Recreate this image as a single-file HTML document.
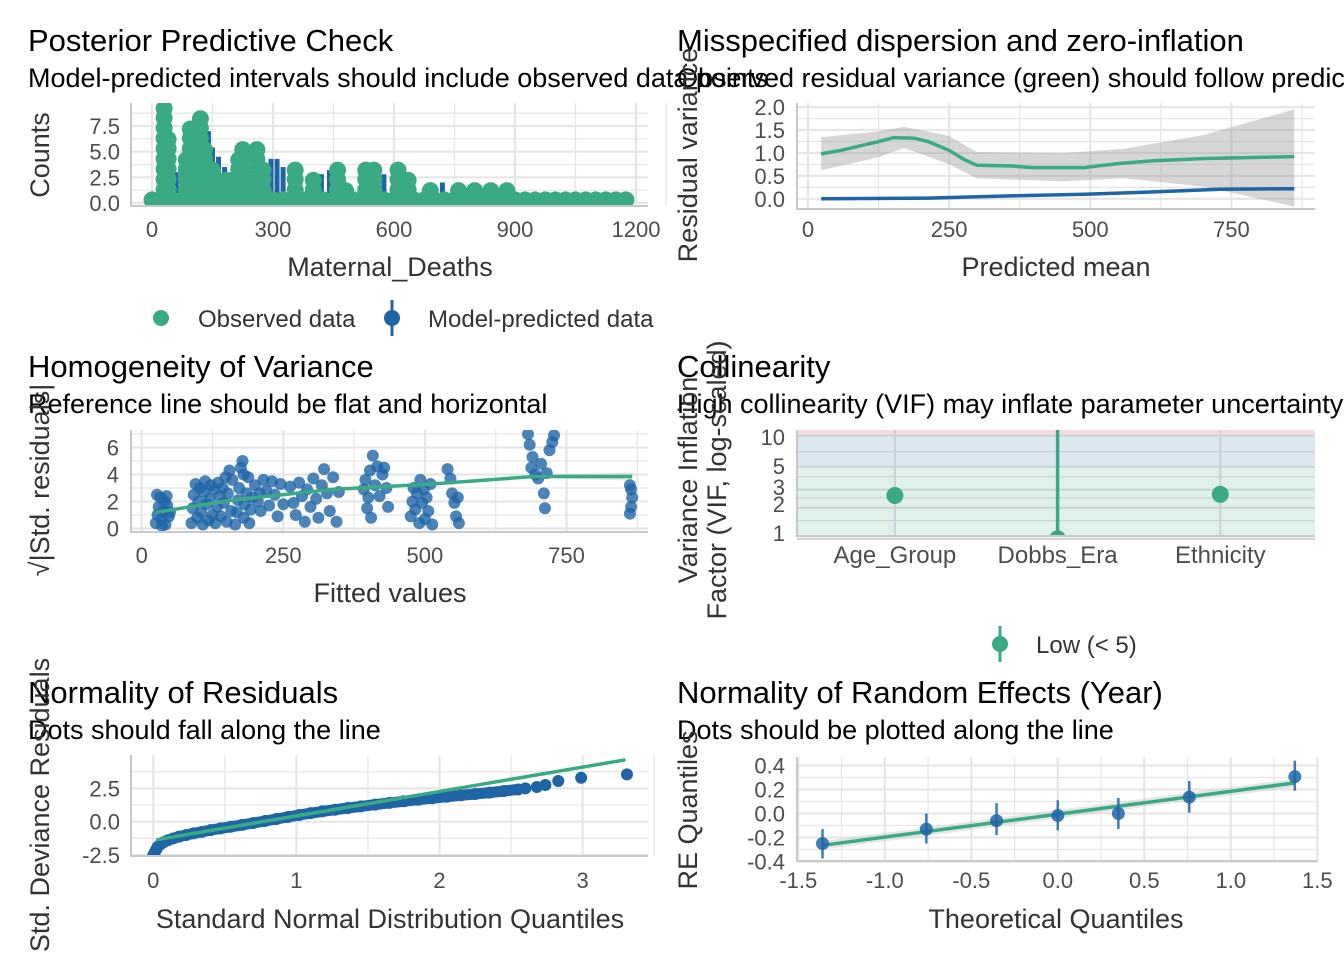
<!DOCTYPE html>
<html><head><meta charset="utf-8"><style>
html,body{margin:0;padding:0;background:#fff;}
svg{display:block;font-family:"Liberation Sans",Arial,sans-serif;}
</style></head><body>
<svg id="c" width="1344" height="960" viewBox="0 0 1344 960" xmlns="http://www.w3.org/2000/svg">
<g fill="#000">
<text x="28" y="51" font-size="31">Posterior Predictive Check</text>
<text x="28" y="87" font-size="27">Model-predicted intervals should include observed data points</text>
<text x="677" y="51" font-size="31">Misspecified dispersion and zero-inflation</text>
<text x="677" y="87" font-size="27">Observed residual variance (green) should follow predicted residual variance (blue)</text>
<text x="28" y="377" font-size="31">Homogeneity of Variance</text>
<text x="28" y="413" font-size="27">Reference line should be flat and horizontal</text>
<text x="677" y="377" font-size="31">Collinearity</text>
<text x="677" y="413" font-size="27">High collinearity (VIF) may inflate parameter uncertainty</text>
<text x="28" y="703" font-size="31">Normality of Residuals</text>
<text x="28" y="739" font-size="27">Dots should fall along the line</text>
<text x="677" y="703" font-size="31">Normality of Random Effects (Year)</text>
<text x="677" y="739" font-size="27">Dots should be plotted along the line</text>
</g>
<g fill="#333" font-size="27" text-anchor="middle">
<text x="390" y="276">Maternal_Deaths</text>
<text x="1056" y="276">Predicted mean</text>
<text x="390" y="602">Fitted values</text>
<text x="390" y="928">Standard Normal Distribution Quantiles</text>
<text x="1056" y="928">Theoretical Quantiles</text>
<text transform="translate(49,155) rotate(-90)">Counts</text>
<text transform="translate(697,155) rotate(-90)">Residual variance</text>
<text transform="translate(49,480) rotate(-90)">√|Std. residuals|</text>
<text transform="translate(697,480) rotate(-90)">Variance Inflation</text>
<text transform="translate(726,480) rotate(-90)">Factor (VIF, log-scaled)</text>
<text transform="translate(49,805) rotate(-90)">Std. Deviance Residuals</text>
<text transform="translate(697,810) rotate(-90)">RE Quantiles</text>
</g>
<g font-size="24" fill="#333">
<circle cx="161" cy="318" r="8" fill="#3aaa85"/>
<text x="198" y="327">Observed data</text>
<line x1="392" y1="300" x2="392" y2="336" stroke="#1f65a6" stroke-width="3"/>
<circle cx="392" cy="318" r="8" fill="#1f65a6"/>
<text x="428" y="327">Model-predicted data</text>
</g>
<g font-size="24" fill="#333">
<line x1="1000" y1="626" x2="1000" y2="662" stroke="#3aaa85" stroke-width="3"/>
<circle cx="1000" cy="644" r="8" fill="#3aaa85"/>
<text x="1036" y="653">Low (&lt; 5)</text>
</g>
</svg>
<script>
// ===== Data: Posterior Predictive Check =====
const obsX = [30,40,85,95,110,120,130,150,185,215,225,260,275,355,400,460,480,530,550,610,635,690,760,800,840,880];
const obsN = [9,6,4,7,6,8,5,3,2,4,5,5,3,3,2,3,1,3,3,3,2,1,1,1,1,1];
const baseX = [0,25,50,75,100,125,150,175,200,225,250,275,300,325,350,375,400,425,450,475,500,525,550,575,600,625,650,675,700,725,750,775,800,825,850,875,900,925,950,975,1000,1025,1050,1075,1100,1125,1150,1175];
const predX = [20,28,35,45,60,75,100,115,140,150,165,180,200,240,295,310,325,400,420,440,575,720,900,950,1000,1050,1100];
const predHi = [3,8,8.3,5,3,4,6,8,7,5.4,4.5,3.5,3,2.5,4.3,4.3,3.5,2.3,2.8,3.2,2.8,2,1,1,1,1,0.8];
const ppcXTicks = [0,300,600,900,1200];
const ppcYTicks = [0,2.5,5,7.5];
const ppcYLabels = ["0.0","2.5","5.0","7.5"];
// ===== Data: dispersion =====
const dispX = [23.4,60,90.7,124.5,152,188.8,213.4,250,274.7,299,360.5,397,489,550.6,612,704,861.5];
const dispObs = [0.98,1.06,1.15,1.245,1.335,1.32,1.245,1.055,0.87,0.73,0.715,0.68,0.68,0.77,0.83,0.88,0.92];
const bandX = [23.4,124.5,170,250,299,450,560,704,861.5];
const bandHi = [1.345,1.47,1.57,1.37,1.02,0.995,1.09,1.40,1.95];
const bandLo = [0.62,0.905,1.11,0.755,0.45,0.38,0.45,0.26,-0.17];
const predVarX = [23.4,213,350,490,612,730,861.5];
const predVar = [0.0,0.015,0.06,0.1,0.15,0.21,0.22];
const dispXTicks = [0,250,500,750];
const dispYTicks = [0,0.5,1,1.5,2];
const dispYLabels = ["0.0","0.5","1.0","1.5","2.0"];
// ===== Data: homogeneity =====
const fitted = [25,28,30,33,35,38,40,42,45,48,50,27,36,44,
88,90,92,95,98,100,103,105,108,110,112,115,118,120,122,125,128,130,133,135,138,140,143,145,148,150,152,155,158,160,
165,168,170,172,175,178,180,182,185,188,190,192,195,180,
200,205,210,215,220,225,230,235,240,245,250,208,
262,268,272,278,283,288,292,298,303,308,312,318,322,327,332,338,344,348,
392,395,398,400,403,405,408,412,416,420,425,428,432,435,
475,478,480,483,486,490,492,495,498,500,503,506,510,513,
540,545,548,552,555,560,558,
682,685,688,690,695,700,705,710,715,720,725,728,712,
862,864,866,864,862];
const sqrtRes = [0.4,1.0,1.6,2.3,0.7,1.3,2.0,0.3,1.7,0.9,1.2,2.5,0.2,2.4,
0.4,1.5,2.5,3.3,0.8,2.0,3.0,1.2,0.3,2.7,3.5,1.8,0.6,2.2,3.2,1.0,2.9,0.4,1.6,3.4,2.4,0.9,3.0,1.9,3.8,0.5,2.6,4.3,1.3,3.6,
0.3,1.2,2.1,3.0,4.5,5.0,0.8,1.8,2.6,3.8,0.4,1.4,2.3,4.0,
3.2,2.0,1.3,3.6,2.8,1.7,3.5,2.5,0.9,3.3,1.8,2.6,
3.1,1.9,1.0,3.4,2.4,0.5,2.9,1.6,3.7,2.2,0.8,3.2,4.4,2.6,1.3,3.8,0.5,2.7,
2.9,3.6,1.5,2.3,4.3,0.8,5.4,3.2,4.6,2.4,4.0,4.5,3.0,1.6,
0.9,2.0,3.0,1.4,2.6,0.4,3.6,1.9,2.9,0.7,2.3,1.3,3.3,0.3,
4.4,3.7,2.6,1.9,0.9,0.4,2.3,
7.0,6.2,4.5,5.3,4.0,3.7,4.8,2.6,4.1,5.8,6.4,6.9,1.5,
1.1,1.6,2.3,2.9,3.2];
const smoothX = [25,160,337,515,693,866];
const smoothY = [1.2,2.1,2.9,3.3,3.85,3.85];
const homXTicks = [0,250,500,750];
const homYTicks = [0,2,4,6];
// ===== Data: collinearity =====
const terms = ["Age_Group","Dobbs_Era","Ethnicity"];
const vif = [2.63,1.0,2.70];
const vifHi = [2.75,100,2.85];
const vifLo = [2.5,1.0,2.55];
const vifTicks = [1,2,3,5,10];
// ===== Data: normality QQ =====
const qqTheo = [0.00,0.01,0.02,0.03,0.05,0.07,0.1,0.14,0.18,0.23,0.28,0.34,0.4,0.47,0.54,0.62,0.7,0.78,0.86,0.94,1.02,1.1,1.18,1.27,1.36,1.45,1.55,1.65,1.75,1.85,1.95,2.05,2.15,2.25,2.35,2.45,2.55,2.6,2.68,2.74,2.83,2.99,3.31];
const qqSample = [-2.5,-2.3,-2.1,-1.9,-1.7,-1.55,-1.4,-1.25,-1.12,-1.0,-0.88,-0.76,-0.63,-0.5,-0.38,-0.24,-0.1,0.05,0.2,0.35,0.5,0.64,0.77,0.9,1.03,1.15,1.28,1.41,1.53,1.65,1.76,1.87,1.98,2.08,2.18,2.3,2.42,2.5,2.6,2.75,3.05,3.3,3.55];
const qqLineX = [0.02,3.3];
const qqLineY = [-1.36,4.64];
const qqXTicks = [0,1,2,3];
const qqYTicks = [-2.5,0,2.5];
const qqYLabels = ["-2.5","0.0","2.5"];
// ===== Data: random effects QQ =====
const reTheo = [-1.36,-0.76,-0.354,0,0.35,0.76,1.37];
const reVal = [-0.25,-0.13,-0.06,-0.017,0.0,0.136,0.307];
const reHi = [-0.13,0.0,0.086,0.11,0.13,0.27,0.44];
const reLo = [-0.375,-0.25,-0.18,-0.14,-0.13,0.007,0.19];
const reLineX = [-1.36,1.37];
const reLineY = [-0.265,0.255];
const reXTicks = [-1.5,-1,-0.5,0,0.5,1,1.5];
const reXLabels = ["-1.5","-1.0","-0.5","0.0","0.5","1.0","1.5"];
const reYTicks = [-0.4,-0.2,0,0.2,0.4];
const reYLabels = ["-0.4","-0.2","0.0","0.2","0.4"];

const NS = "http://www.w3.org/2000/svg";
const svg = document.getElementById('c');
const GREEN = "#3aaa85", BLUE = "#1f65a6";
const TICK = 22;
function mk(tag, attrs, parent){
  const e = document.createElementNS(NS, tag);
  for (const k in attrs) e.setAttribute(k, attrs[k]);
  (parent || svg).appendChild(e);
  return e;
}
function lin(d0,d1,r0,r1){ return v => r0 + (v-d0)*(r1-r0)/(d1-d0); }
function panel(name, L,T,R,B){
  const g = mk('g', {});
  
  
  const cp = mk('clipPath', {id: name+'-clip'}, g);
  mk('rect', {x:L, y:T, width:R-L, height:B-T}, cp);
  return g;
}
function gridX(g, xs, T, B, w){
  xs.forEach(v => {
    const l = mk('line', {x1:v, x2:v, y1:T, y2:B, stroke:"#e6e6e6", 'stroke-width':w}, g);
    
    
  });
}
function gridY(g, ys, L, R, w){
  ys.forEach(v => {
    const l = mk('line', {x1:L, x2:R, y1:v, y2:v, stroke:"#e6e6e6", 'stroke-width':w}, g);
    
    
  });
}
function axes(g, L,T,R,B){
  const a = mk('path', {d:`M${L},${T} V${B} H${R}`, fill:"none", stroke:"#c8c8c8", 'stroke-width':2}, g);
  
  
}
function xLabels(g, vals, labels, sx, y){
  vals.forEach((v,i) => {
    const t = mk('text', {x:sx(v), y:y+8, 'font-size':TICK, fill:"#4d4d4d", 'text-anchor':'middle'}, g);
    t.textContent = labels[i];
    
    
  });
}
function yLabels(g, vals, labels, sy, x){
  vals.forEach((v,i) => {
    const t = mk('text', {x:x, y:sy(v)+8, 'font-size':TICK, fill:"#4d4d4d", 'text-anchor':'end'}, g);
    t.textContent = labels[i];
    
    
  });
}
function mids(a){ const r=[]; for(let i=0;i<a.length-1;i++) r.push((a[i]+a[i+1])/2); return r; }
function pathOf(xs, ys, sx, sy){ return xs.map((x,i)=>(i?'L':'M')+sx(x).toFixed(1)+','+sy(ys[i]).toFixed(1)).join(' '); }

// ---- Panel 1: PPC ----
(function(){
  const L=131,T=103,R=648,B=206;
  const sx = lin(0,1200,152,636), sy = lin(0,1,203,192.73);
  const g = panel('ppc-panel', L,T,R,B);
  gridX(g, mids(ppcXTicks).map(sx).concat([sx(1275)]), T,B,1.2);
  gridY(g, mids(ppcYTicks).concat([8.75]).map(sy), L,R,1.2);
  gridX(g, ppcXTicks.map(sx), T,B,2.2);
  gridY(g, ppcYTicks.map(sy), L,R,2.2);
  const cg = mk('g', {'clip-path':'url(#ppc-panel-clip)'}, g);
  predX.forEach((v,i) => {
    const l = mk('line', {x1:sx(v), x2:sx(v), y1:sy(0), y2:sy(predHi[i]), stroke:BLUE, 'stroke-width':5}, cg);
    
    
  });
  baseX.forEach(v => {
    const c = mk('circle', {cx:sx(v), cy:sy(0.3), r:8.5, fill:GREEN}, cg);
    
    
  });
  obsX.forEach((v,i) => {
    for (let k=0; k<=obsN[i]; k++){
      const c = mk('circle', {cx:sx(v), cy:sy(Math.min(k+0.3, obsN[i]+0.2)), r:8.5, fill:GREEN}, cg);
      
      
    }
  });
  axes(g,L,T,R,B);
  xLabels(g, ppcXTicks, ppcXTicks.map(String), sx, 229);
  yLabels(g, ppcYTicks, ppcYLabels, sy, 120);
})();

// ---- Panel 2: dispersion ----
(function(){
  const L=797,T=103,R=1315,B=209;
  const sx = lin(0,1,808,808.5645), sy = lin(0,1,198.8,152.95);
  const g = panel('dispersion-panel', L,T,R,B);
  gridX(g, [125,375,625,875].map(sx), T,B,1.2);
  gridY(g, [0.25,0.75,1.25,1.75].map(sy), L,R,1.2);
  gridX(g, dispXTicks.map(sx), T,B,2.2);
  gridY(g, dispYTicks.map(sy), L,R,2.2);
  const cg = mk('g', {'clip-path':'url(#dispersion-panel-clip)'}, g);
  const bandD = pathOf(bandX, bandHi, sx, sy) + ' ' + bandX.slice().reverse().map((x,i)=>'L'+sx(x).toFixed(1)+','+sy(bandLo[bandLo.length-1-i]).toFixed(1)).join(' ') + ' Z';
  const band = mk('path', {d:bandD, fill:"#999", 'fill-opacity':0.4}, cg);
  
  
  const pl = mk('path', {d:pathOf(predVarX, predVar, sx, sy), fill:'none', stroke:BLUE, 'stroke-width':3.5}, cg);
  
  
  const ol = mk('path', {d:pathOf(dispX, dispObs, sx, sy), fill:'none', stroke:GREEN, 'stroke-width':3.5}, cg);
  
  
  axes(g,L,T,R,B);
  xLabels(g, dispXTicks, dispXTicks.map(String), sx, 229);
  yLabels(g, dispYTicks, dispYLabels, sy, 785);
})();

// ---- Panel 3: homogeneity ----
(function(){
  const L=131,T=430,R=648,B=532;
  const sx = lin(0,250,141.7,283.3), sy = lin(0,1,528.5,515);
  const g = panel('homogeneity-panel', L,T,R,B);
  gridX(g, [125,375,625,875].map(sx), T,B,1.2);
  gridY(g, [1,3,5,7].map(sy), L,R,1.2);
  gridX(g, homXTicks.map(sx), T,B,2.2);
  gridY(g, homYTicks.map(sy), L,R,2.2);
  const cg = mk('g', {'clip-path':'url(#homogeneity-panel-clip)'}, g);
  const bd = mk('path', {d:`M${sx(700)},${sy(3.75)} L${sx(866)},${sy(3.55)} L${sx(866)},${sy(4.15)} L${sx(700)},${sy(3.95)} Z`, fill:'#ccc', 'fill-opacity':0.5}, cg);
  
  
  fitted.forEach((v,i) => {
    const c = mk('circle', {cx:sx(v), cy:sy(sqrtRes[i]), r:6, fill:BLUE, 'fill-opacity':0.8}, cg);
    
    
  });
  const sl = mk('path', {d:pathOf(smoothX, smoothY, sx, sy), fill:'none', stroke:GREEN, 'stroke-width':3.5}, cg);
  
  
  axes(g,L,T,R,B);
  xLabels(g, homXTicks, homXTicks.map(String), sx, 555);
  yLabels(g, homYTicks, homYTicks.map(String), sy, 119);
})();

// ---- Panel 4: collinearity ----
(function(){
  const L=797,T=430,R=1315,B=536;
  const sy = v => 538.9 - Math.log10(v)*103.3;
  const sx = i => 894.9 + i*162.7;
  const g = panel('collinearity-panel', L,T,R,B);
  const r1 = mk('rect', {x:L, y:T, width:R-L, height:sy(10)-T, fill:'#f7dcdf'}, g);
  
  
  const r2 = mk('rect', {x:L, y:sy(10), width:R-L, height:sy(5)-sy(10), fill:'#dce7f0'}, g);
  
  
  const r3 = mk('rect', {x:L, y:sy(5), width:R-L, height:B-sy(5), fill:'#e0f1ea'}, g);
  
  
  [1.5,2.5,4,7].forEach(v => {
    const l = mk('line', {x1:L,x2:R,y1:sy(v),y2:sy(v),stroke:'#c9d2d6','stroke-width':1.2}, g);
    
    
  });
  vifTicks.forEach(v => {
    const l = mk('line', {x1:L,x2:R,y1:sy(v),y2:sy(v),stroke:'#c9d2d6','stroke-width':2}, g);
    
    
  });
  terms.forEach((t,i) => {
    const l = mk('line', {x1:sx(i),x2:sx(i),y1:T,y2:B,stroke:'#c9d2d6','stroke-width':2}, g);
    
    
  });
  const cg = mk('g', {'clip-path':'url(#collinearity-panel-clip)'}, g);
  terms.forEach((t,i) => {
    const e = mk('line', {x1:sx(i),x2:sx(i),y1:sy(vifLo[i]),y2:sy(vifHi[i]),stroke:GREEN,'stroke-width':3.5}, cg);
    
    
    const c = mk('circle', {cx:sx(i), cy:sy(vif[i]), r:8.5, fill:GREEN}, cg);
    
    
    const lb = mk('text', {x:sx(i), y:563, 'font-size':24, fill:'#4d4d4d', 'text-anchor':'middle'}, g);
    lb.textContent = t;
    
    
  });
  axes(g,L,T,R,B);
  yLabels(g, vifTicks, vifTicks.map(String), v => [533,504,487,466,437][vifTicks.indexOf(v)], 785);
})();

// ---- Panel 5: normality QQ ----
(function(){
  const L=131,T=755,R=648,B=856;
  const sx = lin(0,1,153.3,296.4), sy = lin(0,1,821.7,808.37);
  const g = panel('normality-panel', L,T,R,B);
  gridX(g, [0.5,1.5,2.5,3.5].map(sx), T,B,1.2);
  gridY(g, [-1.25,1.25,3.75].map(sy), L,R,1.2);
  gridX(g, qqXTicks.map(sx), T,B,2.2);
  gridY(g, qqYTicks.map(sy), L,R,2.2);
  const cg = mk('g', {'clip-path':'url(#normality-panel-clip)'}, g);
  const band = mk('path', {d:pathOf(qqTheo.slice(0,37), qqSample.slice(0,37), sx, sy), fill:'none', stroke:BLUE, 'stroke-width':11, 'stroke-linecap':'round'}, cg);
  
  
  qqTheo.forEach((v,i) => {
    const c = mk('circle', {cx:sx(v), cy:sy(qqSample[i]), r:6, fill:BLUE}, cg);
    
    
  });
  const ln = mk('path', {d:pathOf(qqLineX, qqLineY, sx, sy), fill:'none', stroke:GREEN, 'stroke-width':3.5}, cg);
  
  
  axes(g,L,T,R,B);
  xLabels(g, qqXTicks, qqXTicks.map(String), sx, 880);
  yLabels(g, qqYTicks, qqYLabels, sy, 120);
})();

// ---- Panel 6: random effects ----
(function(){
  const L=797,T=757,R=1318,B=861;
  const sx = lin(0,1,1057.8,1230.8), sy = lin(0,1,813.5,693.5);
  const g = panel('random-effects-panel', L,T,R,B);
  gridX(g, mids(reXTicks).map(sx), T,B,1.2);
  gridY(g, mids(reYTicks).map(sy), L,R,1.2);
  gridX(g, reXTicks.map(sx), T,B,2.2);
  gridY(g, reYTicks.map(sy), L,R,2.2);
  const cg = mk('g', {'clip-path':'url(#random-effects-panel-clip)'}, g);
  const bd = mk('path', {d:`M${sx(reLineX[0])},${sy(reLineY[0]-0.035)} L${sx(reLineX[1])},${sy(reLineY[1]-0.035)} L${sx(reLineX[1])},${sy(reLineY[1]+0.035)} L${sx(reLineX[0])},${sy(reLineY[0]+0.035)} Z`, fill:'#ccc','fill-opacity':0.5}, cg);
  
  
  const ln = mk('path', {d:pathOf(reLineX, reLineY, sx, sy), fill:'none', stroke:GREEN, 'stroke-width':3.5}, cg);
  
  
  reTheo.forEach((v,i) => {
    const e = mk('line', {x1:sx(v),x2:sx(v),y1:sy(reLo[i]),y2:sy(reHi[i]),stroke:BLUE,'stroke-width':2.5,'stroke-opacity':0.85}, cg);
    
    
    const c = mk('circle', {cx:sx(v), cy:sy(reVal[i]), r:6.5, fill:BLUE, 'fill-opacity':0.85}, cg);
    
    
  });
  axes(g,L,T,R,B);
  xLabels(g, reXTicks, reXLabels, sx, 880);
  yLabels(g, reYTicks, reYLabels, sy, 785);
})();
</script>
</body></html>
